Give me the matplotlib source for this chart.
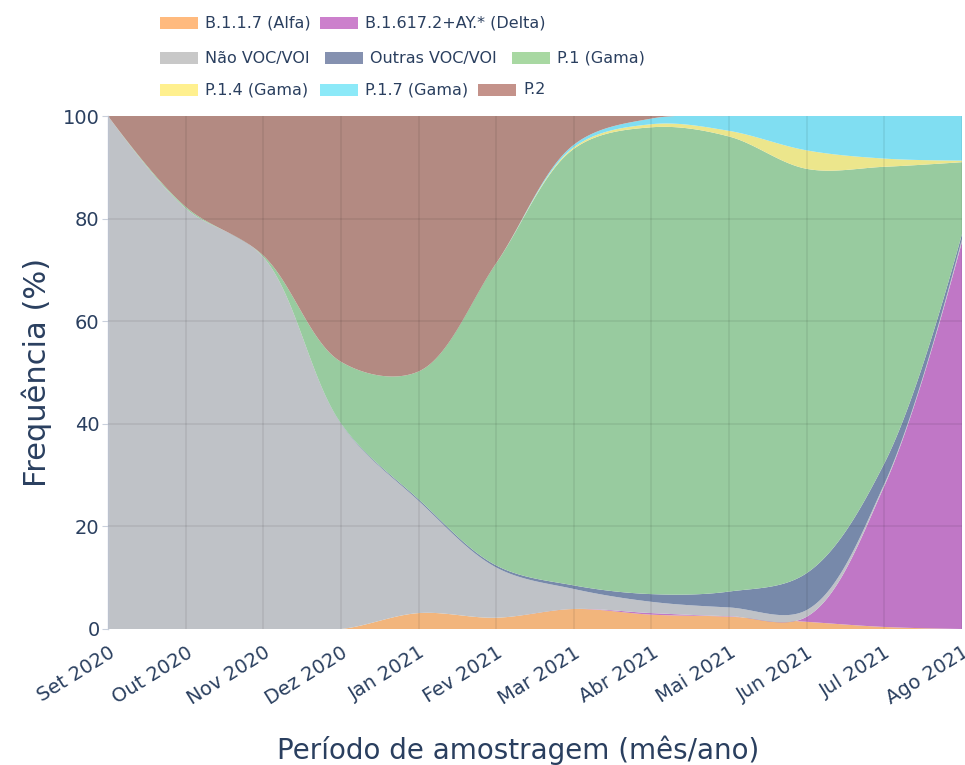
import numpy as np
import matplotlib
matplotlib.use('Agg')
import matplotlib.pyplot as plt
from matplotlib.patches import Rectangle

# dados (frequência % por mês)
meses = ['Set 2020', 'Out 2020', 'Nov 2020', 'Dez 2020', 'Jan 2021', 'Fev 2021',
         'Mar 2021', 'Abr 2021', 'Mai 2021', 'Jun 2021', 'Jul 2021', 'Ago 2021']
alfa = [0, 0, 0, 0, 3.1, 2.2, 3.9, 2.8, 2.4, 1.4, 0.4, 0]
delta = [0, 0, 0, 0, 0, 0, 0, 0.3, 0.1, 1.0, 27.5, 75.5]
nao_voc = [100, 82, 72.5, 40, 21.9, 9.8, 3.9, 2.2, 1.7, 1.3, 0.4, 0.5]
outras = [0, 0, 0, 0.1, 0.3, 0.4, 0.7, 1.5, 3.1, 7.2, 4.0, 1.0]
p1 = [0, 0.3, 0.3, 12.0, 24.9, 58.9, 85.1, 91.0, 88.7, 78.8, 57.8, 14.0]
p14 = [0, 0, 0, 0, 0, 0, 0.3, 0.6, 1.1, 3.6, 1.6, 0.3]
p17 = [0, 0, 0, 0, 0, 0, 0.5, 1.1, 2.9, 6.7, 8.3, 8.7]
p2 = [0, 17.7, 27.2, 47.9, 49.8, 28.7, 5.6, 0.5, 0, 0, 0, 0]

nomes = ['B.1.1.7 (Alfa)', 'B.1.617.2+AY.* (Delta)', 'Não VOC/VOI', 'Outras VOC/VOI',
         'P.1 (Gama)', 'P.1.4 (Gama)', 'P.1.7 (Gama)', 'P.2']
series = [alfa, delta, nao_voc, outras, p1, p14, p17, p2]
cores_area = ['#F2B57C', '#C077C6', '#BFC2C7', '#7789AA', '#98CB9F', '#ECE68C', '#80DEF2', '#B38A82']
cores_leg = ['#FFBA7E', '#CC80CC', '#C8C8C8', '#8591B0', '#A8D8A2', '#FFF08F', '#8CE9F8', '#C4928A']

TXT = '#2a3f5f'
W, H = 965, 765
L, R, T, B = 108, 962, 116, 629
SX = (R - L) / (len(meses) - 1)   # px por mês
SY = (B - T) / 100.0               # px por %


def suaviza(x, y, s=1.0, n=40):
    # spline tipo plotly (Catmull-Rom centrípeta) em coordenadas de pixel
    P = np.column_stack([np.asarray(x, float) * SX, np.asarray(y, float) * SY])
    tg = []
    for i in range(1, len(P) - 1):
        d1 = P[i - 1] - P[i]
        d2 = P[i + 1] - P[i]
        a1 = np.hypot(*d1) ** 0.5
        a2 = np.hypot(*d2) ** 0.5
        num = (a2 * a2 * d1 - a1 * a1 * d2) * s
        den1 = 3 * a2 * (a1 + a2)
        den2 = 3 * a1 * (a1 + a2)
        c1 = P[i] + (num / den1 if den1 else 0)
        c2 = P[i] - (num / den2 if den2 else 0)
        tg.append((c1, c2))
    t = np.linspace(0, 1, n)[:, None]
    pts = []
    # primeiro segmento quadrático
    q0, q1, q2 = P[0], tg[0][0], P[1]
    pts.append((1 - t) ** 2 * q0 + 2 * (1 - t) * t * q1 + t ** 2 * q2)
    for i in range(2, len(P) - 1):
        b0, b1, b2, b3 = P[i - 1], tg[i - 2][1], tg[i - 1][0], P[i]
        pts.append((1 - t) ** 3 * b0 + 3 * (1 - t) ** 2 * t * b1 + 3 * (1 - t) * t ** 2 * b2 + t ** 3 * b3)
    q0, q1, q2 = P[-2], tg[-1][1], P[-1]
    pts.append((1 - t) ** 2 * q0 + 2 * (1 - t) * t * q1 + t ** 2 * q2)
    pts = np.vstack(pts)
    return pts[:, 0] / SX, pts[:, 1] / SY


fig = plt.figure(figsize=(W / 100, H / 100), dpi=100)
ax = fig.add_axes([L / W, 1 - B / H, (R - L) / W, (B - T) / H])

x = np.arange(len(meses))
acum = np.zeros(len(meses))
base_x, base_y = x.astype(float), np.zeros(len(meses))
for vals, cor in zip(series, cores_area):
    acum = acum + np.array(vals)
    ux, uy = suaviza(x, acum)
    ax.fill(np.concatenate([ux, base_x[::-1]]), np.concatenate([uy, base_y[::-1]]),
            color=cor, lw=0, zorder=2)
    base_x, base_y = ux, uy

# grade por cima (as áreas são semitransparentes no original)
for xi in x:
    ax.axvline(xi, color='black', alpha=0.07, lw=1.3, zorder=3)
for yi in [20, 40, 60, 80]:
    ax.axhline(yi, color='black', alpha=0.07, lw=1.3, zorder=3)

ax.set_xlim(0, len(meses) - 1)
ax.set_ylim(0, 100)
for sp in ['top', 'right', 'bottom']:
    ax.spines[sp].set_visible(False)
ax.spines['left'].set_color('#c9d0dc')
ax.spines['left'].set_linewidth(1)

ax.set_yticks([0, 20, 40, 60, 80, 100])
ax.tick_params(axis='y', labelsize=14, colors='#c9d0dc', labelcolor=TXT, length=4, pad=2)
ax.set_xticks(x)
ax.set_xticklabels(meses, rotation=32, ha='right', rotation_mode='anchor')
ax.tick_params(axis='x', labelsize=14, labelcolor=TXT, length=0, pad=10)

ax.set_ylabel('Frequência (%)', fontsize=22, color=TXT, labelpad=8)
fig.text(518 / W, 1 - 750 / H, 'Período de amostragem (mês/ano)', fontsize=20,
         color=TXT, ha='center', va='center')

# legenda manual em 3 linhas (como no plotly horizontal)
leg = [(0, 160, 23), (1, 320, 23),
       (2, 160, 58), (3, 325, 58), (4, 512, 58),
       (5, 160, 90), (6, 320, 90), (7, 478, 90)]
for k, px, py in leg:
    fig.patches.append(Rectangle((px / W, 1 - (py + 6) / H), 38 / W, 12 / H,
                                 transform=fig.transFigure, color=cores_leg[k], lw=0))
    fig.text((px + 45) / W, 1 - py / H, nomes[k], fontsize=11.5, color=TXT,
             ha='left', va='center')

fig.savefig('out.png', dpi=100)
